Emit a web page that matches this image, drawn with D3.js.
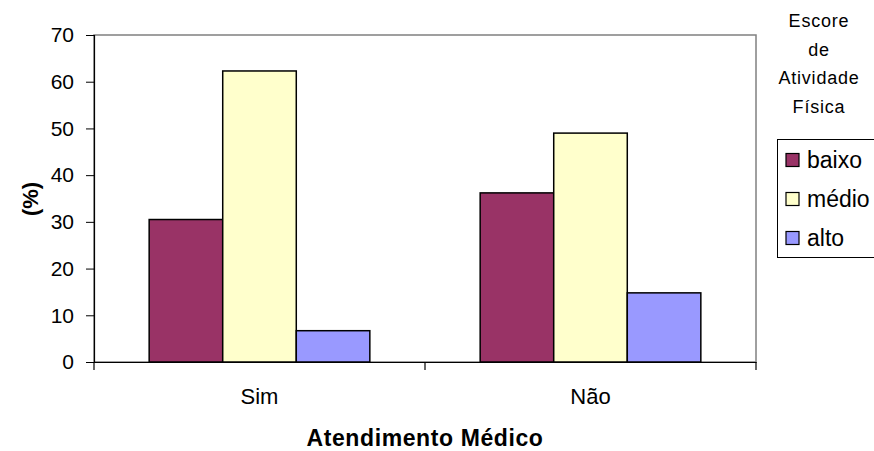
<!DOCTYPE html>
<html>
<head>
<meta charset="utf-8">
<script src="https://cdn.jsdelivr.net/npm/d3@7"></script>
<style>
  body { margin: 0; background: #fff; }
  text { font-family: "Liberation Sans", Arial, sans-serif; fill: #000; }
</style>
</head>
<body>
<svg id="chart" width="874" height="451"></svg>
<script>
// dados
const categorias = ["Sim", "Não"]
const niveis = ["baixo", "médio", "alto"]
const valoresSim = [30.5, 62.3, 6.7]
const valoresNao = [36.2, 49.0, 14.8]
const cores = ["#993366", "#FFFFCC", "#9999FF"]
const yTicks = [0, 10, 20, 30, 40, 50, 60, 70]
const tituloLegenda = ["Escore", "de", "Atividade", "Física"]

const dados = [
    { cat: "Sim", valores: valoresSim },
    { cat: "Não", valores: valoresNao }
]

const svg = d3.select("#chart")
const plot = { left: 94, right: 756, top: 35, bottom: 362 }

/* ------------------------- SCALES ------------------------- */

const x = d3.scaleBand().domain(categorias).range([plot.left, plot.right]).padding(0)
const xNivel = d3.scaleBand().domain(niveis).range([0, x.bandwidth()])
    .paddingInner(0).paddingOuter(0.75)
const y = d3.scaleLinear().domain([0, 70]).range([plot.bottom, plot.top])
const cor = d3.scaleOrdinal().domain(niveis).range(cores)

// borda da área de plotagem
svg.append("rect")
    .attr("x", plot.left).attr("y", plot.top)
    .attr("width", plot.right - plot.left).attr("height", plot.bottom - plot.top)
    .attr("fill", "none").attr("stroke", "#808080").attr("stroke-width", 1.5)

/* ------------------------- BARRAS ------------------------- */

const grupos = svg.append("g").selectAll("g")
    .data(dados)
    .enter().append("g")
    .attr("transform", d => `translate(${x(d.cat)},0)`)

grupos.selectAll("rect")
    .data(d => d.valores.map((v, i) => ({ nivel: niveis[i], v: v })))
    .enter().append("rect")
    .attr("x", d => xNivel(d.nivel))
    .attr("y", d => y(d.v))
    .attr("width", xNivel.bandwidth())
    .attr("height", d => y(0) - y(d.v))
    .attr("fill", d => cor(d.nivel))
    .attr("stroke", "#000")
    .attr("stroke-width", 1.5)

/* ------------------------- EIXOS ------------------------- */

const eixoY = svg.append("g")
    .attr("transform", `translate(${plot.left},0)`)
    .call(d3.axisLeft(y).tickValues(yTicks).tickSize(8).tickPadding(12))
eixoY.select(".domain").attr("stroke", "#000").attr("stroke-width", 1.2)
eixoY.selectAll("text").style("font-size", "21px").style("font-family", "Liberation Sans, Arial, sans-serif")

const eixoX = svg.append("g")
    .attr("transform", `translate(0,${plot.bottom})`)
    .call(d3.axisBottom(x).tickSize(0).tickPadding(26))
eixoX.select(".domain").attr("stroke", "#000").attr("stroke-width", 1.2)
eixoX.selectAll("text").style("font-size", "22px").style("font-family", "Liberation Sans, Arial, sans-serif")

// marcas entre categorias
const divisas = [plot.left, x("Não"), plot.right]
svg.append("g").selectAll("line")
    .data(divisas)
    .enter().append("line")
    .attr("x1", d => d).attr("x2", d => d)
    .attr("y1", plot.bottom).attr("y2", plot.bottom + 8)
    .attr("stroke", "#000").attr("stroke-width", 1.2)

// títulos dos eixos
svg.append("text")
    .attr("x", (plot.left + plot.right) / 2).attr("y", 446)
    .attr("text-anchor", "middle")
    .style("font-size", "23px").style("font-weight", "bold").style("letter-spacing", "0.6px")
    .text("Atendimento Médico")

svg.append("text")
    .attr("transform", "translate(38,199) rotate(-90)")
    .attr("text-anchor", "middle")
    .style("font-size", "22px").style("font-weight", "bold")
    .text("(%)")

/* ------------------------- LEGENDA ------------------------- */

svg.append("g").selectAll("text")
    .data(tituloLegenda)
    .enter().append("text")
    .attr("x", 819)
    .attr("y", (d, i) => 27 + i * 28.7)
    .attr("text-anchor", "middle")
    .style("font-size", "18px").style("letter-spacing", "0.8px")
    .text(d => d)

svg.append("rect")
    .attr("x", 777.5).attr("y", 139.5)
    .attr("width", 110).attr("height", 118)
    .attr("fill", "#fff").attr("stroke", "#000").attr("stroke-width", 1)

const itens = svg.append("g").selectAll("g")
    .data(niveis)
    .enter().append("g")
    .attr("transform", (d, i) => `translate(786,${160 + i * 39})`)

itens.append("rect")
    .attr("x", 0).attr("y", -6.5)
    .attr("width", 13).attr("height", 13)
    .attr("fill", d => cor(d)).attr("stroke", "#000").attr("stroke-width", 1.2)

itens.append("text")
    .attr("x", 21).attr("y", 8)
    .style("font-size", "23px")
    .text(d => d)
</script>
</body>
</html>
